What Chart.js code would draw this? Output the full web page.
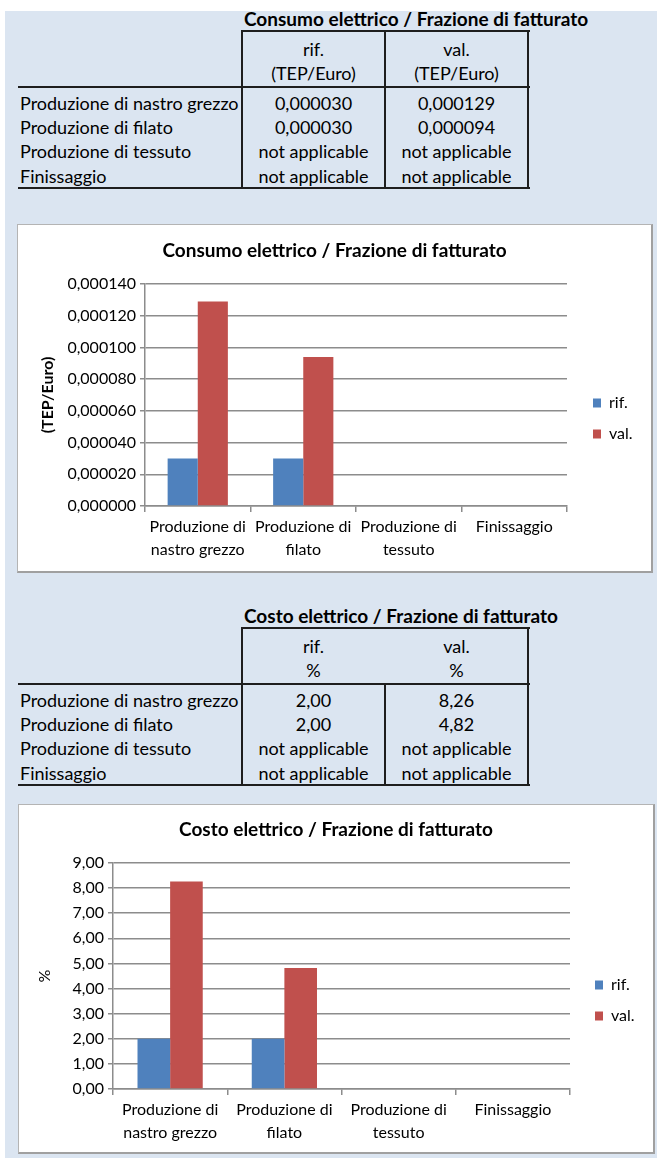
<!DOCTYPE html>
<html><head><meta charset="utf-8">
<script src="https://cdn.jsdelivr.net/npm/chart.js@4.4.1/dist/chart.umd.min.js"></script>
<style>
html,body{margin:0;padding:0;background:#fff;}
body{width:657px;height:1158px;position:relative;overflow:hidden;font-family:Lato, sans-serif;}
#bg{position:absolute;left:5px;top:11px;width:652px;height:1147px;background:#dbe5f1;}
.t{position:absolute;white-space:nowrap;color:#000;font-size:18px;line-height:1;}
.c{transform:translate(-50%,-50%);}
.l{transform:translate(0,-50%);}
.b{font-weight:bold;font-size:19px;}
.hl{position:absolute;height:2px;background:#1e1e1e;}
.vl{position:absolute;width:2px;background:#1e1e1e;}
.box{position:absolute;background:#fff;border:1px solid #b4b4b4;border-right:2px solid #a0a0a0;border-bottom:2px solid #a0a0a0;}
canvas{display:block;}
</style></head>
<body>
<div id="bg"></div>
<div id="tables"></div>
<div class="box" style="left:17px;top:224px;"><canvas id="c1" width="633" height="346"></canvas></div>
<div class="box" style="left:18px;top:804px;"><canvas id="c2" width="634" height="347"></canvas></div>
<script>
// ---- data ----
const categories = ['Produzione di nastro grezzo', 'Produzione di filato', 'Produzione di tessuto', 'Finissaggio'];
const axisLabels = [['Produzione di', 'nastro grezzo'], ['Produzione di', 'filato'], ['Produzione di', 'tessuto'], ['Finissaggio']];
const seriesNames = ['rif.', 'val.'];
const consumoRif = [0.000030, 0.000030, null, null];
const consumoVal = [0.000129, 0.000094, null, null];
const costoRif = [2.00, 2.00, null, null];
const costoVal = [8.26, 4.82, null, null];
const consumoTitle = 'Consumo elettrico / Frazione di fatturato';
const costoTitle = 'Costo elettrico / Frazione di fatturato';
const consumoUnit = '(TEP/Euro)';
const costoUnit = '%';
const notApplicable = 'not applicable';

const fmt6 = v => v.toFixed(6).replace('.', ',');
const fmt2 = v => v.toFixed(2).replace('.', ',');

// ---- tables ----
const host = document.getElementById('tables');
function txt(s, x, y, cls) {
  const d = document.createElement('div');
  d.className = 't ' + cls; d.textContent = s;
  d.style.left = x + 'px'; d.style.top = y + 'px';
  host.appendChild(d);
}
function hline(x1, x2, y) {
  const d = document.createElement('div'); d.className = 'hl';
  d.style.left = x1 + 'px'; d.style.width = (x2 - x1 + 2) + 'px'; d.style.top = (y - 1) + 'px';
  host.appendChild(d);
}
function vline(x, y1, y2) {
  const d = document.createElement('div'); d.className = 'vl';
  d.style.left = (x - 1) + 'px'; d.style.top = (y1 - 1) + 'px'; d.style.height = (y2 - y1 + 2) + 'px';
  host.appendChild(d);
}
function table(top, title, unit, rif, val, fmt, midFull) {
  const X0 = 18, X1 = 242, X2 = 385, X3 = 528;
  txt(title, 244, top - 13, 'l b');
  hline(X1, X3, top);
  vline(X1, top, top + 157);
  vline(X3, top, top + 157);
  vline(X2, midFull ? top : top + 56, top + 157);
  hline(X0, X3, top + 56);
  hline(X0, X3, top + 157);
  const cx1 = (X1 + X2) / 2, cx2 = (X2 + X3) / 2;
  txt(seriesNames[0], cx1, top + 18, 'c'); txt(unit, cx1, top + 42, 'c');
  txt(seriesNames[1], cx2, top + 18, 'c'); txt(unit, cx2, top + 42, 'c');
  const rows = [top + 72, top + 96, top + 120, top + 145];
  categories.forEach((c, i) => {
    txt(c, 20, rows[i], 'l');
    txt(rif[i] == null ? notApplicable : fmt(rif[i]), cx1, rows[i], 'c');
    txt(val[i] == null ? notApplicable : fmt(val[i]), cx2, rows[i], 'c');
  });
}
table(31, consumoTitle, consumoUnit, consumoRif, consumoVal, fmt6, true);
table(628, costoTitle, costoUnit, costoRif, costoVal, fmt2, false);

// ---- charts ----
const legendShift = {
  id: 'legendShift',
  afterInit(chart) {
    const lg = chart.legend; const W = chart.options.plugins.legendShift.width;
    const orig = lg.fit.bind(lg);
    lg.fit = function () { orig(); this.width = W; };
  },
  afterLayout(chart) {
    const o = chart.options.plugins.legendShift;
    chart.legend.left += o.shift;
    chart.legend.top = o.top;
  }
};
const GRID = '#8c8c8c';
function makeChart(id, rif, val, cfg) {
  return new Chart(document.getElementById(id), {
    type: 'bar',
    data: {
      labels: axisLabels,
      datasets: [
        { label: seriesNames[0], data: rif, backgroundColor: '#4f81bd', borderWidth: 0 },
        { label: seriesNames[1], data: val, backgroundColor: '#c0504d', borderWidth: 0 }
      ]
    },
    plugins: [legendShift],
    options: {
      responsive: false, animation: false, devicePixelRatio: 1,
      layout: { padding: 0 },
      datasets: { bar: { categoryPercentage: 0.571, barPercentage: 1 } },
      plugins: {
        legendShift: { width: cfg.legendWidth, shift: cfg.legendShift, top: cfg.legendTop },
        title: { display: true, text: cfg.title, color: '#000',
          font: { family: 'Lato', size: 19, weight: 'bold' }, padding: { top: cfg.titleTop, bottom: cfg.titleBottom } },
        legend: { position: 'right', align: 'start',
          labels: { boxWidth: 8, boxHeight: 9, padding: 15, color: '#000', font: { family: 'Lato', size: 16 } } },
        tooltip: { enabled: false }
      },
      scales: {
        x: {
          grid: { drawOnChartArea: false, drawTicks: true, tickLength: 6, color: GRID, lineWidth: 1.5, offset: true },
          border: { color: GRID, width: 1.5 },
          ticks: { color: '#000', padding: 4, maxRotation: 0, autoSkip: false, font: { family: 'Lato', size: 16, lineHeight: 1.4 } },
          afterFit: s => { s.height = cfg.xHeight; }
        },
        y: {
          min: 0, max: cfg.max,
          grid: { color: GRID, tickLength: 5, lineWidth: 1.5 },
          border: { color: GRID, width: 1.5 },
          ticks: { stepSize: cfg.step, color: '#000', padding: 4, callback: cfg.fmt, font: { family: 'Lato', size: 16 } },
          title: { display: true, text: cfg.unit, color: '#000', padding: { top: cfg.ytPad, bottom: 0 },
            font: { family: 'Lato', size: 16, weight: cfg.ytWeight } },
          afterFit: s => { s.width = cfg.yWidth; }
        }
      }
    }
  });
}
makeChart('c1', consumoRif, consumoVal, {
  title: consumoTitle, unit: consumoUnit, max: 0.00014, step: 0.00002, fmt: v => fmt6(v),
  titleTop: 14.6, titleBottom: 21.6, legendWidth: 84, legendShift: 11, legendTop: 155, xHeight: 65, yWidth: 127,
  ytPad: 20.4, ytWeight: 'bold'
});
makeChart('c2', costoRif, costoVal, {
  title: costoTitle, unit: costoUnit, max: 9, step: 1, fmt: v => fmt2(v),
  titleTop: 13.6, titleBottom: 21.6, legendWidth: 83, legendShift: 10, legendTop: 157, xHeight: 63, yWidth: 94,
  ytPad: 16.4, ytWeight: 'normal'
});
</script>
</body></html>
